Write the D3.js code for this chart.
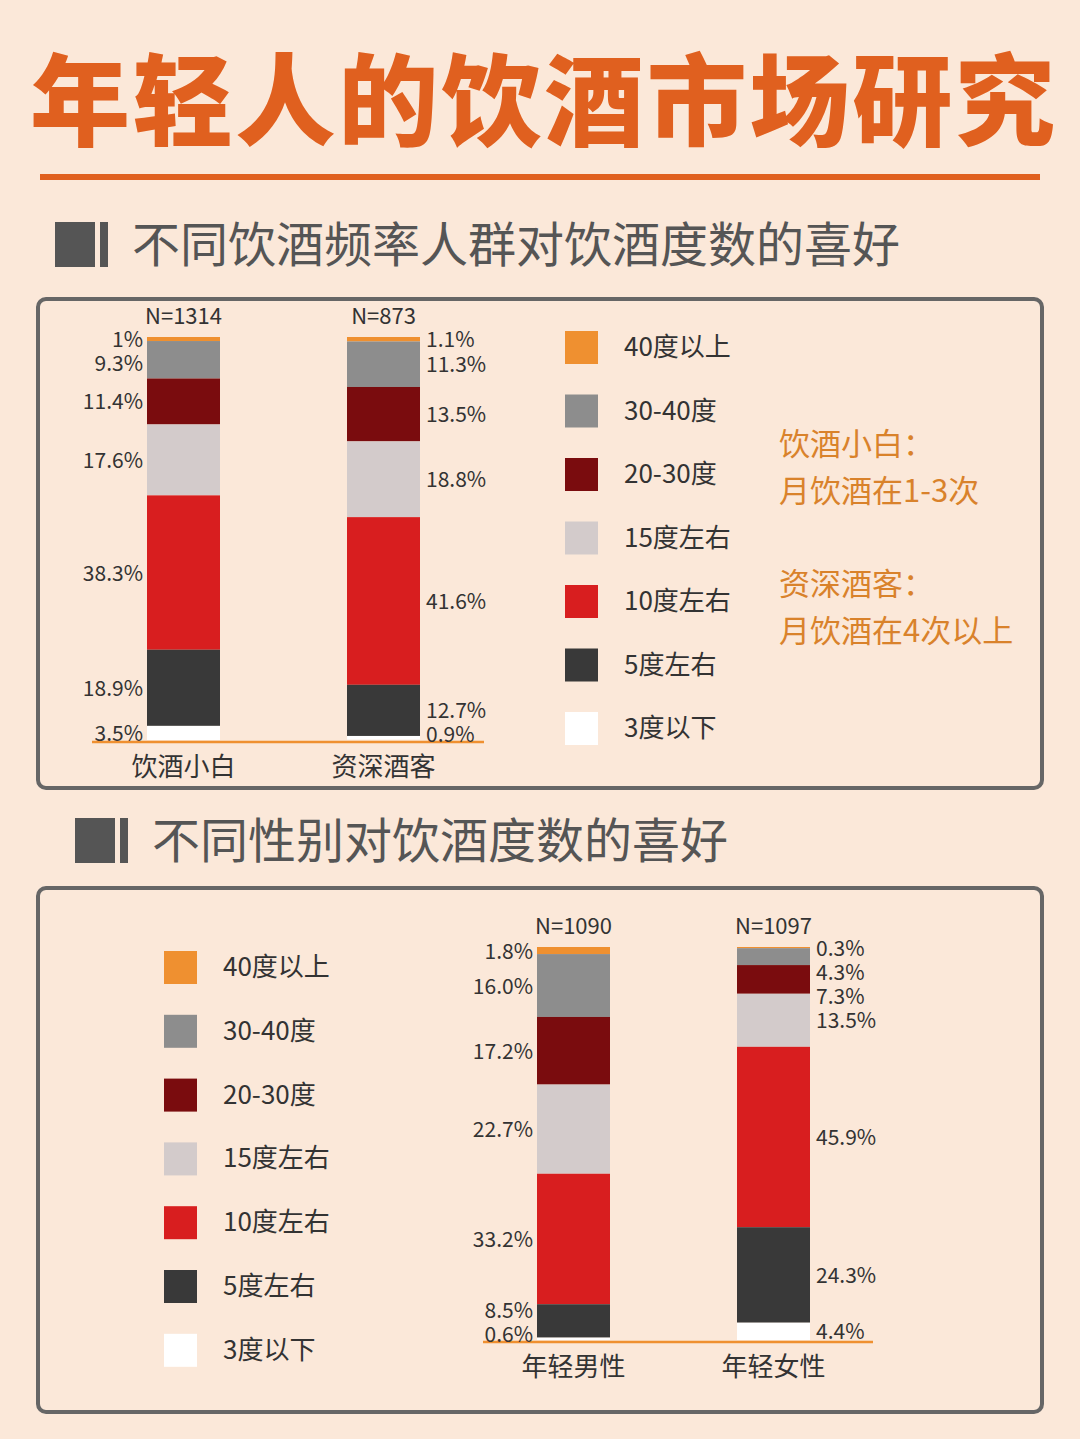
<!DOCTYPE html>
<html><head><meta charset="utf-8">
<script src="https://cdn.jsdelivr.net/npm/d3@7"></script>
<style>body{margin:0;background:#fbe8d9;}svg{display:block;font-family:"Noto Sans CJK SC","Noto Sans",sans-serif;}</style>
</head><body><svg id="c" width="1080" height="1439"></svg>
<script>
const degrees=["40度以上","30-40度","20-30度","15度左右","10度左右","5度左右","3度以下"];
const colors=["#ef9030","#8d8d8d","#7a0c0e","#d3cbcb","#d81e1f","#393939","#ffffff"];
const groups1=["饮酒小白","资深酒客"];
const ns1=["N=1314","N=873"];
const novice=[1,9.3,11.4,17.6,38.3,18.9,3.5];
const veteran=[1.1,11.3,13.5,18.8,41.6,12.7,0.9];
const groups2=["年轻男性","年轻女性"];
const ns2=["N=1090","N=1097"];
const male=[1.8,16.0,17.2,22.7,33.2,8.5,0.6];
const female=[0.3,4.3,7.3,13.5,45.9,24.3,4.4];
const notes=["饮酒小白：","月饮酒在1-3次","资深酒客：","月饮酒在4次以上"];

const svg=d3.select("#c");
svg.append("rect").attr("width",1080).attr("height",1439).attr("fill","#fbe8d9");
svg.append("text").attr("x",30).attr("y",138).attr("font-size",100).attr("font-weight",900)
 .attr("fill","#e0601f").attr("textLength",1025).attr("lengthAdjust","spacing").text("年轻人的饮酒市场研究");
svg.append("rect").attr("x",40).attr("y",174).attr("width",1000).attr("height",6).attr("fill","#e0601f");

function heading(x,y,t){
 svg.append("rect").attr("x",x).attr("y",y).attr("width",40).attr("height",45).attr("fill","#555");
 svg.append("rect").attr("x",x+45).attr("y",y).attr("width",8).attr("height",45).attr("fill","#555");
 svg.append("text").attr("x",x+77).attr("y",y+40).attr("font-size",48).attr("fill","#555").text(t);
}
heading(55,222,"不同饮酒频率人群对饮酒度数的喜好");
heading(75,818,"不同性别对饮酒度数的喜好");
svg.append("rect").attr("x",38).attr("y",299).attr("width",1004).attr("height",489).attr("rx",8).attr("fill","none").attr("stroke","#666").attr("stroke-width",4);
svg.append("rect").attr("x",38).attr("y",888).attr("width",1004).attr("height",524).attr("rx",8).attr("fill","none").attr("stroke","#666").attr("stroke-width",4);

function fmt(v){return v.toFixed(1).replace(/\.0$/,".0")+"%";}
function fmtN(v){return (Number.isInteger(v)&&v<10?String(v):v.toFixed(1))+"%";}
function chart(o){
 const x=d3.scaleBand().domain(o.groups).range(o.xr).paddingInner(0.635).paddingOuter(0);
 const y=d3.scaleLinear().domain([0,100]).range([o.top,o.bot]);
 svg.append("line").attr("x1",o.base[0]).attr("x2",o.base[1]).attr("y1",o.bot+2).attr("y2",o.bot+2).attr("stroke","#ef9030").attr("stroke-width",2.5);
 o.data.forEach((vals,gi)=>{
  const g=o.groups[gi];let cum=0;const labs=[];
  vals.forEach((v,i)=>{
   svg.append("rect").attr("x",x(g)).attr("width",x.bandwidth()).attr("y",y(cum)).attr("height",y(cum+v)-y(cum)).attr("fill",colors[i]);
   labs.push({t:fmtN(v),y:(y(cum)+y(cum+v))/2+8});cum+=v;
  });
  const sp=24;
  labs[0].y=Math.max(labs[0].y,o.top+8);
  for(let i=1;i<labs.length;i++) if(labs[i].y-labs[i-1].y<sp) labs[i].y=labs[i-1].y+sp;
  if(labs[labs.length-1].y>o.bot+2) labs[labs.length-1].y=o.bot+2;
  for(let i=labs.length-2;i>=0;i--) if(labs[i+1].y-labs[i].y<sp) labs[i].y=labs[i+1].y-sp;
  const left=o.side[gi]==="l";
  labs.forEach(l=>svg.append("text").attr("x",left?x(g)-4:x(g)+x.bandwidth()+6).attr("y",l.y)
   .attr("text-anchor",left?"end":"start").attr("font-size",21).attr("fill","#333").text(l.t));
  svg.append("text").attr("x",x(g)+x.bandwidth()/2).attr("y",o.top-13).attr("text-anchor","middle").attr("font-size",22).attr("fill","#333").text(o.ns[gi]);
  svg.append("text").attr("x",x(g)+x.bandwidth()/2).attr("y",o.bot+36).attr("text-anchor","middle").attr("font-size",26).attr("fill","#333").text(g);
 });
}
chart({groups:groups1,data:[novice,veteran],ns:ns1,xr:[147,420],top:337,bot:740,base:[92,484],side:["l","r"]});
chart({groups:groups2,data:[male,female],ns:ns2,xr:[537,810],top:947,bot:1340,base:[483,873],side:["l","r"]});

function legend(x0,y0,step){
 degrees.forEach((d,i)=>{
  const cy=y0+i*step;
  svg.append("rect").attr("x",x0).attr("y",cy-16).attr("width",33).attr("height",33).attr("fill",colors[i]);
  svg.append("text").attr("x",x0+59).attr("y",cy+9).attr("font-size",26).attr("fill","#333").text(d);
 });
}
legend(565,347,63.5);
legend(164,967,63.8);
const ny=[455,502,595,642];
notes.forEach((t,i)=>svg.append("text").attr("x",779).attr("y",ny[i]).attr("font-size",31).attr("fill","#d9822b").text(t));
</script></body></html>
